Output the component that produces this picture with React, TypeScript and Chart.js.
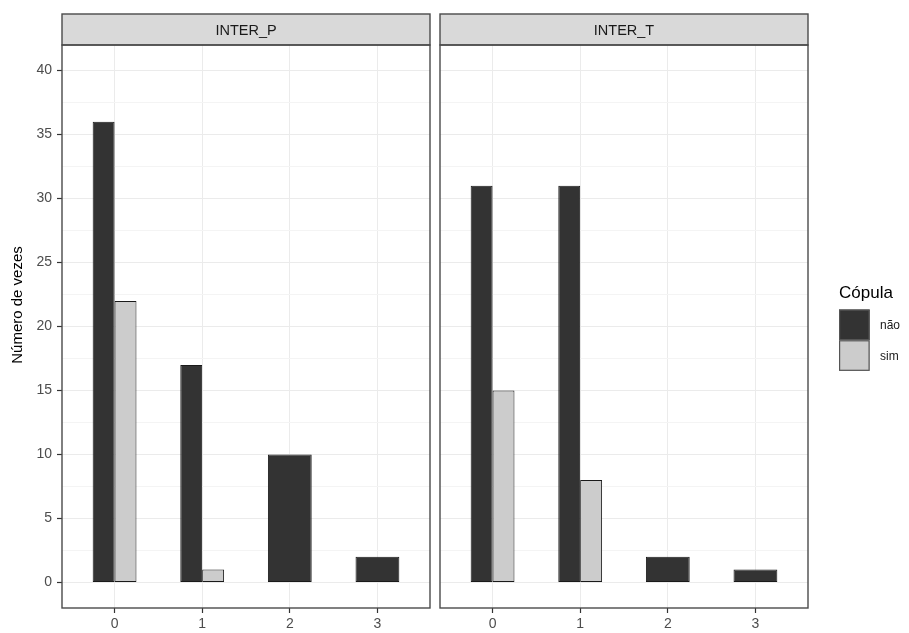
import React, { useEffect, useRef } from 'react';
import { Chart, registerables } from 'chart.js';

Chart.register(...registerables);

// ---------- data ----------
const categories = ['0', '1', '2', '3'];
const xPositions = [0, 1, 2, 3];
const panelNames = ['INTER_P', 'INTER_T'];
const seriesNames = ['não', 'sim'];
const naoP = [36, 17, 10, 2];
const simP = [22, 1, null, null];
const naoT = [31, 31, 2, 1];
const simT = [15, 8, null, null];
const yMajorTicks = [0, 5, 10, 15, 20, 25, 30, 35, 40];
const yMinorTicks = [2.5, 7.5, 12.5, 17.5, 22.5, 27.5, 32.5, 37.5];
const yTitle = 'Número de vezes';
const legendTitle = 'Cópula';
const seriesColors = ['#333333', '#cccccc'];

// ---------- style ----------
const FONT = "'Liberation Sans', Arial, Helvetica, sans-serif";
const W = 909;
const H = 633;
const STRIP_TOP = 14;
const PANEL_TOP = 45;
const X_AXIS_H = 25;

Chart.defaults.font.family = FONT;

const facetPlugin = {
  id: 'facet',
  afterDraw(chart: any, _args: any, opts: any) {
    const { ctx, chartArea: a } = chart;
    ctx.save();
    // strip
    ctx.fillStyle = '#d9d9d9';
    ctx.fillRect(a.left, STRIP_TOP, a.right - a.left, a.top - STRIP_TOP);
    ctx.strokeStyle = '#4a4a4a';
    ctx.lineWidth = 1.4;
    ctx.strokeRect(a.left, STRIP_TOP, a.right - a.left, a.top - STRIP_TOP);
    ctx.fillStyle = '#1a1a1a';
    ctx.font = `14.5px ${FONT}`;
    ctx.textAlign = 'center';
    ctx.textBaseline = 'middle';
    ctx.fillText(opts.label, (a.left + a.right) / 2, (STRIP_TOP + a.top) / 2 + 1.5);
    // panel border
    ctx.strokeRect(a.left, a.top, a.right - a.left, a.bottom - a.top);

    if (opts.yTitle) {
      ctx.save();
      ctx.translate(18, 305);
      ctx.rotate(-Math.PI / 2);
      ctx.fillStyle = '#000000';
      ctx.font = `15px ${FONT}`;
      ctx.textAlign = 'center';
      ctx.textBaseline = 'middle';
      ctx.fillText(opts.yTitle, 0, 0);
      ctx.restore();
    }

    if (opts.legend) {
      const lx = opts.legend.x;
      ctx.fillStyle = '#000000';
      ctx.font = `17px ${FONT}`;
      ctx.textAlign = 'left';
      ctx.textBaseline = 'alphabetic';
      ctx.fillText(opts.legend.title, lx, 298);
      const key = 30.7;
      const ky = 309.5;
      chart.data.datasets.forEach((ds: any, i: number) => {
        const y = ky + i * key;
        ctx.fillStyle = ds.backgroundColor;
        ctx.fillRect(lx, y, key, key);
        ctx.strokeStyle = '#555555';
        ctx.lineWidth = 1.2;
        ctx.strokeRect(lx + 0.6, y + 0.6, key - 1.2, key - 1.2);
        ctx.fillStyle = '#1a1a1a';
        ctx.font = `12px ${FONT}`;
        ctx.textBaseline = 'middle';
        ctx.fillText(ds.label, lx + 41, y + key / 2 + 1);
      });
    }
    ctx.restore();
  },
};

function makeConfig(nao: (number | null)[], sim: (number | null)[], opts: any) {
  const isMajor = (v: number) => yMajorTicks.includes(v);
  const barCommon = {
    borderColor: '#1a1a1a',
    borderWidth: 1,
    borderSkipped: false,
    categoryPercentage: 0.5,
    barPercentage: 1,
    skipNull: true,
  };
  return {
    type: 'bar',
    data: {
      datasets: [
        {
          ...barCommon,
          label: seriesNames[0],
          backgroundColor: seriesColors[0],
          data: xPositions.map((x, i) => ({ x, y: nao[i] })),
        },
        {
          ...barCommon,
          label: seriesNames[1],
          backgroundColor: seriesColors[1],
          data: xPositions.map((x, i) => ({ x, y: sim[i] })),
        },
      ],
    },
    options: {
      responsive: false,
      animation: false,
      events: [],
      layout: { padding: { top: PANEL_TOP, left: opts.padLeft, right: opts.padRight, bottom: 0 } },
      plugins: {
        legend: { display: false },
        tooltip: { enabled: false },
        title: { display: false },
        facet: { label: opts.label, yTitle: opts.yTitle, legend: opts.legend },
      },
      scales: {
        x: {
          type: 'linear',
          min: -0.6,
          max: 3.6,
          offset: false,
          afterBuildTicks: (s: any) => {
            s.ticks = xPositions.map((v) => ({ value: v }));
          },
          afterFit: (s: any) => {
            s.height = X_AXIS_H;
          },
          ticks: {
            autoSkip: false,
            maxRotation: 0,
            padding: 3,
            color: '#4d4d4d',
            font: { size: 14 },
            callback: (v: number) => categories[xPositions.indexOf(v)] ?? '',
          },
          grid: {
            offset: false,
            color: '#ebebeb',
            lineWidth: 1,
            tickLength: 5,
            tickColor: '#333333',
            tickWidth: 1.2,
          },
          border: { display: false },
        },
        y: {
          type: 'linear',
          min: -2,
          max: 42,
          afterBuildTicks: (s: any) => {
            s.ticks = [...yMajorTicks, ...yMinorTicks].sort((a, b) => a - b).map((v) => ({ value: v }));
          },
          afterFit: (s: any) => {
            s.width = opts.yWidth;
          },
          ticks: {
            display: opts.showYLabels,
            autoSkip: false,
            padding: 5,
            color: '#4d4d4d',
            font: { size: 14 },
            callback: (v: number) => (isMajor(v) ? String(v) : ''),
          },
          grid: {
            color: (c: any) => (c.tick && isMajor(c.tick.value) ? '#ebebeb' : '#f4f4f4'),
            lineWidth: 1,
            drawTicks: opts.showYLabels,
            tickLength: 5,
            tickWidth: 1.2,
            tickColor: (c: any) => (c.tick && isMajor(c.tick.value) ? '#333333' : 'rgba(0,0,0,0)'),
          },
          border: { display: false },
        },
      },
    },
    plugins: [facetPlugin],
  } as any;
}

const C1_LEFT = 0;
const C1_W = 434;
const C2_LEFT = 436;
const C2_W = W - C2_LEFT;

export default function App() {
  const ref1 = useRef<HTMLCanvasElement>(null);
  const ref2 = useRef<HTMLCanvasElement>(null);

  useEffect(() => {
    const c1 = new Chart(
      ref1.current as HTMLCanvasElement,
      makeConfig(naoP, simP, {
        label: panelNames[0],
        yTitle,
        padLeft: 0,
        padRight: 4,
        yWidth: 62,
        showYLabels: true,
      })
    );
    const c2 = new Chart(
      ref2.current as HTMLCanvasElement,
      makeConfig(naoT, simT, {
        label: panelNames[1],
        padLeft: 4,
        padRight: W - 808,
        yWidth: 0,
        showYLabels: false,
        legend: { title: legendTitle, x: 839 - C2_LEFT },
      })
    );
    return () => {
      c1.destroy();
      c2.destroy();
    };
  }, []);

  return (
    <div style={{ position: 'absolute', left: 0, top: 0, width: W, height: H, background: '#ffffff' }}>
      <canvas
        ref={ref1}
        width={C1_W}
        height={H}
        style={{ position: 'absolute', left: C1_LEFT, top: 0, width: C1_W, height: H }}
      />
      <canvas
        ref={ref2}
        width={C2_W}
        height={H}
        style={{ position: 'absolute', left: C2_LEFT, top: 0, width: C2_W, height: H }}
      />
    </div>
  );
}
